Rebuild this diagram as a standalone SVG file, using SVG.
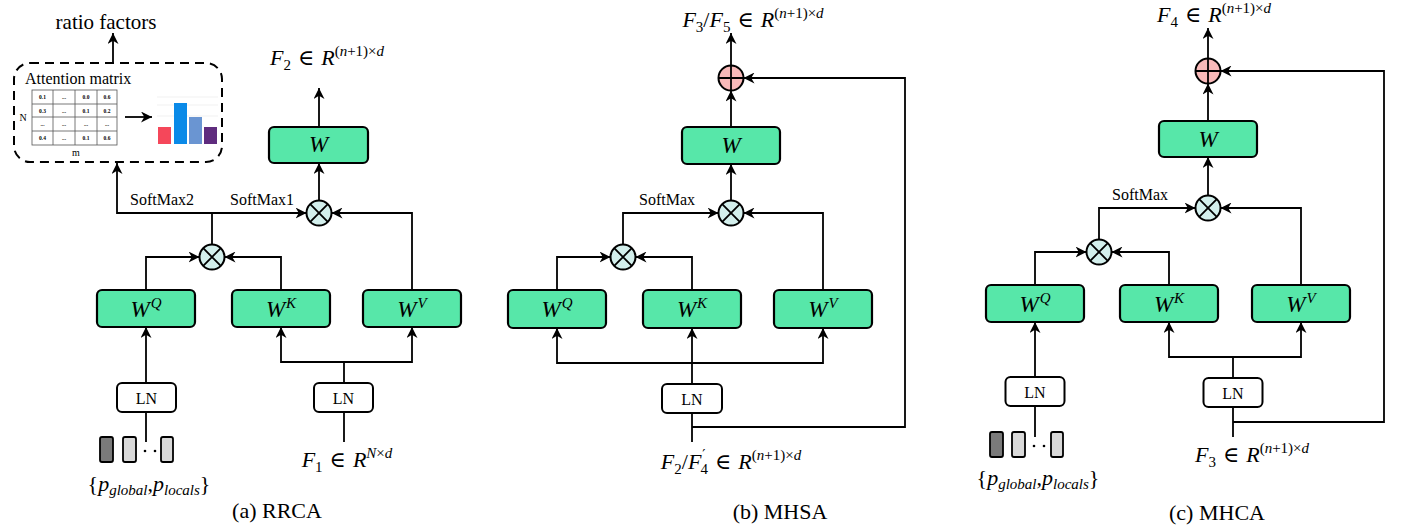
<svg xmlns="http://www.w3.org/2000/svg" width="1402" height="532" viewBox="0 0 1402 532">
<defs>
<marker id="arr" viewBox="0 0 10 10" refX="10" refY="5" markerWidth="11" markerHeight="11" orient="auto" markerUnits="userSpaceOnUse"><path d="M0,0 L10,5 L0,10 L3,5 z" fill="#000"/></marker>
<style>
.ln{fill:none;stroke:#000;stroke-width:1.8}
.a{marker-end:url(#arr)}
.wbox{fill:#57e7a9;stroke:#000;stroke-width:2.2}
.lnbox{fill:#fff;stroke:#000;stroke-width:2}
.mul{fill:#d3efec;stroke:#000;stroke-width:2}
.add{fill:#f8b9b9;stroke:#000;stroke-width:2}
.sym{fill:none;stroke:#000;stroke-width:1.8}
.t{font-family:"Liberation Serif","Times New Roman",serif;fill:#000}
.m{font-family:"Liberation Serif","Times New Roman",serif;font-style:italic;fill:#000}
.up{font-style:normal}
.sym2{font-family:"DejaVu Serif","Liberation Serif",serif;font-style:normal}
.cell{font-family:"Liberation Serif",serif;font-weight:bold;font-size:5.5px;text-anchor:middle}
.tokd{fill:#7a7a7a;stroke:#000;stroke-width:1.8}
.tokl{fill:#d9d9d9;stroke:#000;stroke-width:1.8}
</style>
</defs>
<rect width="1402" height="532" fill="#fff"/>

<!-- ===== Panel (a) ===== -->
<g id="ratio-label"><text class="t" x="106" y="29" font-size="21" text-anchor="middle">ratio factors</text></g>
<g id="attention-box">
<rect x="14" y="63" width="208" height="99" rx="16" fill="none" stroke="#000" stroke-width="2" stroke-dasharray="9 6"/>
<text class="t" x="25" y="84" font-size="16">Attention matrix</text>
<g fill="none" stroke="#555" stroke-width="0.8">
<rect x="32" y="90" width="85" height="55"/>
<path d="M53,90V145M75,90V145M97,90V145M32,104H117M32,117H117M32,131H117"/>
</g>
<g class="cell">
<text x="42.5" y="99">0.1</text><text x="64" y="99">...</text><text x="86" y="99">0.0</text><text x="107" y="99">0.6</text>
<text x="42.5" y="112.5">0.3</text><text x="64" y="112.5">...</text><text x="86" y="112.5">0.1</text><text x="107" y="112.5">0.2</text>
<text x="42.5" y="126">...</text><text x="64" y="126">...</text><text x="86" y="126">...</text><text x="107" y="126">...</text>
<text x="42.5" y="140">0.4</text><text x="64" y="140">...</text><text x="86" y="140">0.1</text><text x="107" y="140">0.6</text>
</g>
<text class="t" x="23" y="121" font-size="10" text-anchor="middle">N</text>
<text class="t" x="76" y="156" font-size="10" text-anchor="middle">m</text>
<path class="ln a" d="M125,117H152" stroke-width="1.5"/>
<g stroke="#eee" stroke-width="0.8"><path d="M157,97H218M157,105H218M157,116H218"/></g>
<rect x="158" y="127" width="13" height="17" fill="#f5475a"/>
<rect x="174" y="103" width="13" height="41" fill="#0a8ae8"/>
<rect x="189" y="117" width="13" height="27" fill="#6a95d2"/>
<rect x="204" y="127" width="13" height="17" fill="#5f2c7e"/>
</g>

<g id="a-W"><rect class="wbox" x="269" y="127" width="99" height="36" rx="5"/><text class="m" x="318.5" y="152" font-size="23" text-anchor="middle">W</text></g>
<g id="a-WQ"><rect class="wbox" x="97" y="290" width="98" height="37" rx="5"/><text class="m" x="146" y="317" font-size="23" text-anchor="middle">W<tspan font-size="15" dx="1" dy="-9">Q</tspan></text></g>
<g id="a-WK"><rect class="wbox" x="232" y="290" width="98" height="37" rx="5"/><text class="m" x="281" y="317" font-size="23" text-anchor="middle">W<tspan font-size="15" dx="1" dy="-9">K</tspan></text></g>
<g id="a-WV"><rect class="wbox" x="363" y="290" width="98" height="37" rx="5"/><text class="m" x="412" y="317" font-size="23" text-anchor="middle">W<tspan font-size="15" dx="1" dy="-9">V</tspan></text></g>
<g id="a-mul1"><circle class="mul" cx="319" cy="213" r="12.5"/><path class="sym" d="M310.2,204.2L327.8,221.8M327.8,204.2L310.2,221.8"/></g>
<g id="a-mul2"><circle class="mul" cx="212" cy="257" r="12.5"/><path class="sym" d="M203.2,248.2L220.8,265.8M220.8,248.2L203.2,265.8"/></g>
<g id="a-LN1"><rect class="lnbox" x="117" y="383" width="59" height="29" rx="5"/><text class="t" x="146.5" y="404" font-size="16" text-anchor="middle">LN</text></g>
<g id="a-LN2"><rect class="lnbox" x="314" y="383" width="59" height="29" rx="5"/><text class="t" x="343.5" y="404" font-size="16" text-anchor="middle">LN</text></g>
<g id="a-tokens">
<rect class="tokd" x="100" y="437" width="13" height="25" rx="2"/>
<rect class="tokl" x="123" y="437" width="13" height="25" rx="2"/>
<circle cx="145" cy="451" r="1.3"/><circle cx="155" cy="451" r="1.3"/>
<rect class="tokl" x="161" y="437" width="12" height="25" rx="2"/>
<text class="m" x="149" y="491" font-size="22" text-anchor="middle"><tspan class="up">{</tspan>p<tspan font-size="15" dy="4">global</tspan><tspan class="up" dy="-4">,</tspan>p<tspan font-size="15" dy="4">locals</tspan><tspan class="up" dy="-4">}</tspan></text>
</g>
<g id="a-labels">
<text class="t" x="130" y="205" font-size="16">SoftMax2</text>
<text class="t" x="230" y="205" font-size="16">SoftMax1</text>
<text class="m" x="327" y="65" font-size="22" text-anchor="middle">F<tspan class="up" font-size="15" dy="5">2</tspan><tspan class="sym2" dy="-5"> ∈ </tspan>R<tspan font-size="15" dy="-9"><tspan class="up">(</tspan>n<tspan class="up">+1)×</tspan>d</tspan></text>
<text class="m" x="347" y="467" font-size="22" text-anchor="middle">F<tspan class="up" font-size="15" dy="5">1</tspan><tspan class="sym2" dy="-5"> ∈ </tspan>R<tspan font-size="15" dy="-9">N<tspan class="up">×</tspan>d</tspan></text>
<text class="t" x="277" y="518" font-size="22" text-anchor="middle">(a) RRCA</text>
</g>

<!-- ===== Panel (b) ===== -->
<g id="b-add"><circle class="add" cx="731" cy="78" r="12.5"/><path class="sym" d="M718.5,78H743.5M731,65.5V90.5"/></g>
<g id="b-W"><rect class="wbox" x="682" y="127" width="98" height="37" rx="5"/><text class="m" x="731" y="153" font-size="23" text-anchor="middle">W</text></g>
<g id="b-mul1"><circle class="mul" cx="731" cy="213" r="12.5"/><path class="sym" d="M722.2,204.2L739.8,221.8M739.8,204.2L722.2,221.8"/></g>
<g id="b-mul2"><circle class="mul" cx="623" cy="257" r="12.5"/><path class="sym" d="M614.2,248.2L631.8,265.8M631.8,248.2L614.2,265.8"/></g>
<g id="b-WQ"><rect class="wbox" x="508" y="290" width="98" height="38" rx="5"/><text class="m" x="557" y="317" font-size="23" text-anchor="middle">W<tspan font-size="15" dx="1" dy="-9">Q</tspan></text></g>
<g id="b-WK"><rect class="wbox" x="643" y="290" width="98" height="38" rx="5"/><text class="m" x="692" y="317" font-size="23" text-anchor="middle">W<tspan font-size="15" dx="1" dy="-9">K</tspan></text></g>
<g id="b-WV"><rect class="wbox" x="774" y="290" width="98" height="38" rx="5"/><text class="m" x="823" y="317" font-size="23" text-anchor="middle">W<tspan font-size="15" dx="1" dy="-9">V</tspan></text></g>
<g id="b-LN"><rect class="lnbox" x="662" y="384" width="60" height="29" rx="5"/><text class="t" x="692" y="405" font-size="16" text-anchor="middle">LN</text></g>
<g id="b-labels">
<text class="t" x="639" y="205" font-size="16">SoftMax</text>
<text class="m" x="753" y="27" font-size="22" text-anchor="middle">F<tspan class="up" font-size="15" dy="5">3</tspan><tspan class="up" dy="-5">/</tspan>F<tspan class="up" font-size="15" dy="5">5</tspan><tspan class="sym2" dy="-5"> ∈ </tspan>R<tspan font-size="15" dy="-9"><tspan class="up">(</tspan>n<tspan class="up">+1)×</tspan>d</tspan></text>
<text class="m" x="731" y="469" font-size="22" text-anchor="middle">F<tspan class="up" font-size="15" dy="5">2</tspan><tspan class="up" dy="-5">/</tspan>F<tspan class="sym2" font-size="14" dx="1" dy="-9">′</tspan><tspan class="up" font-size="15" dx="-5" dy="14">4</tspan><tspan class="sym2" dy="-5"> ∈ </tspan>R<tspan font-size="15" dy="-9"><tspan class="up">(</tspan>n<tspan class="up">+1)×</tspan>d</tspan></text>
<text class="t" x="780" y="519" font-size="22" text-anchor="middle">(b) MHSA</text>
</g>

<!-- ===== Panel (c) ===== -->
<g id="c-add"><circle class="add" cx="1208" cy="71" r="12.5"/><path class="sym" d="M1195.5,71H1220.5M1208,58.5V83.5"/></g>
<g id="c-W"><rect class="wbox" x="1159" y="121" width="98" height="36" rx="5"/><text class="m" x="1208" y="147" font-size="23" text-anchor="middle">W</text></g>
<g id="c-mul1"><circle class="mul" cx="1208" cy="208" r="12.5"/><path class="sym" d="M1199.2,199.2L1216.8,216.8M1216.8,199.2L1199.2,216.8"/></g>
<g id="c-mul2"><circle class="mul" cx="1099" cy="252" r="12.5"/><path class="sym" d="M1090.2,243.2L1107.8,260.8M1107.8,243.2L1090.2,260.8"/></g>
<g id="c-WQ"><rect class="wbox" x="986" y="285" width="98" height="37" rx="5"/><text class="m" x="1035" y="312" font-size="23" text-anchor="middle">W<tspan font-size="15" dx="1" dy="-9">Q</tspan></text></g>
<g id="c-WK"><rect class="wbox" x="1120" y="285" width="98" height="37" rx="5"/><text class="m" x="1169" y="312" font-size="23" text-anchor="middle">W<tspan font-size="15" dx="1" dy="-9">K</tspan></text></g>
<g id="c-WV"><rect class="wbox" x="1252" y="285" width="98" height="37" rx="5"/><text class="m" x="1301" y="312" font-size="23" text-anchor="middle">W<tspan font-size="15" dx="1" dy="-9">V</tspan></text></g>
<g id="c-LN1"><rect class="lnbox" x="1005.5" y="377" width="59" height="29" rx="5"/><text class="t" x="1035" y="398" font-size="16" text-anchor="middle">LN</text></g>
<g id="c-LN2"><rect class="lnbox" x="1203.5" y="378" width="59" height="29" rx="5"/><text class="t" x="1233" y="399" font-size="16" text-anchor="middle">LN</text></g>
<g id="c-tokens">
<rect class="tokd" x="990" y="432" width="13" height="25" rx="2"/>
<rect class="tokl" x="1012" y="432" width="13" height="25" rx="2"/>
<circle cx="1034" cy="446" r="1.3"/><circle cx="1044" cy="446" r="1.3"/>
<rect class="tokl" x="1051" y="432" width="12" height="25" rx="2"/>
<text class="m" x="1038" y="485" font-size="22" text-anchor="middle"><tspan class="up">{</tspan>p<tspan font-size="15" dy="4">global</tspan><tspan class="up" dy="-4">,</tspan>p<tspan font-size="15" dy="4">locals</tspan><tspan class="up" dy="-4">}</tspan></text>
</g>
<g id="c-labels">
<text class="t" x="1112" y="200" font-size="16">SoftMax</text>
<text class="m" x="1214" y="22" font-size="22" text-anchor="middle">F<tspan class="up" font-size="15" dy="5">4</tspan><tspan class="sym2" dy="-5"> ∈ </tspan>R<tspan font-size="15" dy="-9"><tspan class="up">(</tspan>n<tspan class="up">+1)×</tspan>d</tspan></text>
<text class="m" x="1252" y="462" font-size="22" text-anchor="middle">F<tspan class="up" font-size="15" dy="5">3</tspan><tspan class="sym2" dy="-5"> ∈ </tspan>R<tspan font-size="15" dy="-9"><tspan class="up">(</tspan>n<tspan class="up">+1)×</tspan>d</tspan></text>
<text class="t" x="1217" y="520" font-size="22" text-anchor="middle">(c) MHCA</text>
</g>

<!-- ===== Connectors ===== -->
<g id="connectors">
<!-- a -->
<path class="ln a" d="M113,63V33"/>
<path class="ln a" d="M146,290V257H199.5"/>
<path class="ln a" d="M281,290V257H224.5"/>
<path class="ln a" d="M212,244.5V213H306.5"/>
<path class="ln a" d="M212,213H117V163"/>
<path class="ln a" d="M412,290V213H331.5"/>
<path class="ln a" d="M319,200.5V163"/>
<path class="ln a" d="M319,127V88"/>
<path class="ln a" d="M146,383V327"/>
<path class="ln" d="M146,412V442"/>
<path class="ln" d="M344,383V362"/>
<path class="ln a" d="M344,362H281V327"/>
<path class="ln a" d="M344,362H412V327"/>
<path class="ln" d="M344,412V442"/>
<!-- b -->
<path class="ln a" d="M557,290V257H610.5"/>
<path class="ln a" d="M692,290V257H635.5"/>
<path class="ln a" d="M623,244.5V213H718.5"/>
<path class="ln a" d="M823,290V213H743.5"/>
<path class="ln a" d="M731,200.5V164"/>
<path class="ln a" d="M731,127V90.5"/>
<path class="ln a" d="M731,65.5V33"/>
<path class="ln a" d="M692,384V328"/>
<path class="ln a" d="M692,363H557V328"/>
<path class="ln a" d="M692,363H823V328"/>
<path class="ln" d="M692,413V442"/>
<path class="ln a" d="M692,427H905V78H743.5"/>
<!-- c -->
<path class="ln a" d="M1035,285V252H1086.5"/>
<path class="ln a" d="M1169,285V252H1111.5"/>
<path class="ln a" d="M1099,239.5V208H1195.5"/>
<path class="ln a" d="M1301,285V208H1220.5"/>
<path class="ln a" d="M1208,195.5V157"/>
<path class="ln a" d="M1208,121V83.5"/>
<path class="ln a" d="M1208,58.5V28"/>
<path class="ln a" d="M1035,377V322"/>
<path class="ln" d="M1035,406V437"/>
<path class="ln" d="M1233,378V357"/>
<path class="ln a" d="M1233,357H1169V322"/>
<path class="ln a" d="M1233,357H1301V322"/>
<path class="ln" d="M1233,407V437"/>
<path class="ln a" d="M1233,422H1384V71H1220.5"/>
</g>
</svg>
